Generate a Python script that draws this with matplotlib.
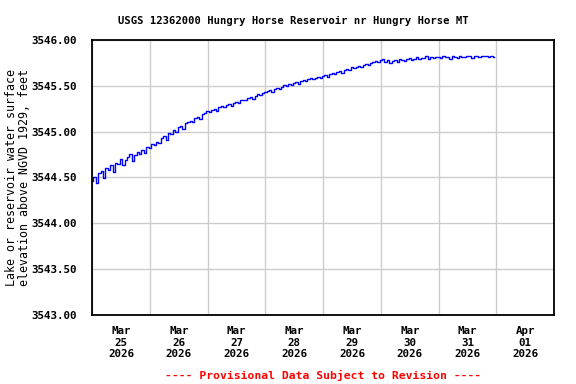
import numpy as np
import pandas as pd
import matplotlib
matplotlib.use('Agg')
import matplotlib.pyplot as plt
import matplotlib.dates as mdates

# hourly gage height readings, Mar 25 00:00 .. Mar 31 23:00
mar25 = [3544.46, 3544.50, 3544.44, 3544.55, 3544.57, 3544.49, 3544.60, 3544.58,
         3544.64, 3544.56, 3544.66, 3544.65, 3544.70, 3544.63, 3544.69, 3544.72,
         3544.75, 3544.68, 3544.74, 3544.78, 3544.76, 3544.80, 3544.77, 3544.83]
mar26 = [3544.82, 3544.86, 3544.85, 3544.89, 3544.87, 3544.93, 3544.95, 3544.91,
         3544.98, 3544.97, 3545.02, 3545.00, 3545.05, 3545.06, 3545.03, 3545.09,
         3545.10, 3545.12, 3545.11, 3545.15, 3545.16, 3545.14, 3545.19, 3545.20]
mar27 = [3545.22, 3545.21, 3545.24, 3545.25, 3545.23, 3545.27, 3545.28, 3545.27,
         3545.29, 3545.30, 3545.28, 3545.31, 3545.32, 3545.31, 3545.34, 3545.35,
         3545.34, 3545.37, 3545.38, 3545.36, 3545.39, 3545.41, 3545.40, 3545.42]
mar28 = [3545.43, 3545.44, 3545.45, 3545.43, 3545.47, 3545.48, 3545.46, 3545.49,
         3545.51, 3545.50, 3545.52, 3545.51, 3545.53, 3545.54, 3545.52, 3545.55,
         3545.56, 3545.55, 3545.57, 3545.58, 3545.57, 3545.59, 3545.60, 3545.59]
mar29 = [3545.61, 3545.62, 3545.60, 3545.63, 3545.64, 3545.63, 3545.65, 3545.66,
         3545.64, 3545.67, 3545.68, 3545.67, 3545.70, 3545.69, 3545.71, 3545.72,
         3545.71, 3545.73, 3545.74, 3545.73, 3545.75, 3545.76, 3545.77, 3545.76]
mar30 = [3545.78, 3545.79, 3545.76, 3545.78, 3545.75, 3545.77, 3545.78, 3545.76,
         3545.79, 3545.78, 3545.77, 3545.79, 3545.80, 3545.78, 3545.79, 3545.81,
         3545.79, 3545.80, 3545.80, 3545.82, 3545.79, 3545.81, 3545.80, 3545.81]
mar31 = [3545.81, 3545.80, 3545.82, 3545.81, 3545.81, 3545.79, 3545.82, 3545.81,
         3545.80, 3545.82, 3545.81, 3545.81, 3545.83, 3545.82, 3545.80, 3545.82,
         3545.83, 3545.81, 3545.82, 3545.83, 3545.82, 3545.81, 3545.82, 3545.81]

elev = mar25 + mar26 + mar27 + mar28 + mar29 + mar30 + mar31
times = pd.date_range('2026-03-25 00:00', periods=len(elev), freq='h')

day_labels = ['Mar\n25\n2026', 'Mar\n26\n2026', 'Mar\n27\n2026', 'Mar\n28\n2026',
              'Mar\n29\n2026', 'Mar\n30\n2026', 'Mar\n31\n2026', 'Apr\n01\n2026']
y_ticks = [3543.0, 3543.5, 3544.0, 3544.5, 3545.0, 3545.5, 3546.0]

plt.rcParams['font.family'] = 'DejaVu Sans Mono'
plt.rcParams['font.weight'] = 'bold'
plt.rcParams['font.size'] = 7.8

fig = plt.figure(figsize=(5.76, 3.84), dpi=100)
ax = fig.add_axes([0.160, 0.180, 0.802, 0.716])

ax.plot(times, elev, color='#0000ff', lw=1.0, drawstyle='steps-mid')

ax.set_xlim(pd.Timestamp('2026-03-25'), pd.Timestamp('2026-04-02'))
ax.set_ylim(3543.0, 3546.0)

# gridlines at midnight, labels at noon
ax.xaxis.set_major_locator(mdates.DayLocator())
ax.xaxis.set_major_formatter(plt.NullFormatter())
noon = pd.date_range('2026-03-25 12:00', periods=len(day_labels), freq='D')
ax.xaxis.set_minor_locator(plt.FixedLocator(mdates.date2num(noon)))
ax.xaxis.set_minor_formatter(plt.FixedFormatter(day_labels))
ax.tick_params(axis='x', which='both', length=0)
ax.tick_params(axis='x', which='minor', pad=8)
for lab in ax.get_xticklabels(minor=True):
    lab.set_horizontalalignment('center')
    lab.set_linespacing(1.2)

ax.set_yticks(y_ticks)
ax.set_yticklabels(['%.2f' % v for v in y_ticks])
ax.tick_params(axis='y', length=0, pad=11)

ax.grid(True, which='major', color='#cccccc', lw=1.0)
for s in ax.spines.values():
    s.set_linewidth(1.3)

ax.set_ylabel('Lake or reservoir water surface\nelevation above NGVD 1929, feet',
              labelpad=0, linespacing=1.0, fontsize=8.4)
fig.text(0.509, 0.946, 'USGS 12362000 Hungry Horse Reservoir nr Hungry Horse MT',
         ha='center', va='center', fontsize=7.6)
fig.text(0.561, 0.023, '---- Provisional Data Subject to Revision ----',
         ha='center', va='center', color='red', fontsize=8.2)

fig.savefig('out.png', dpi=100)
